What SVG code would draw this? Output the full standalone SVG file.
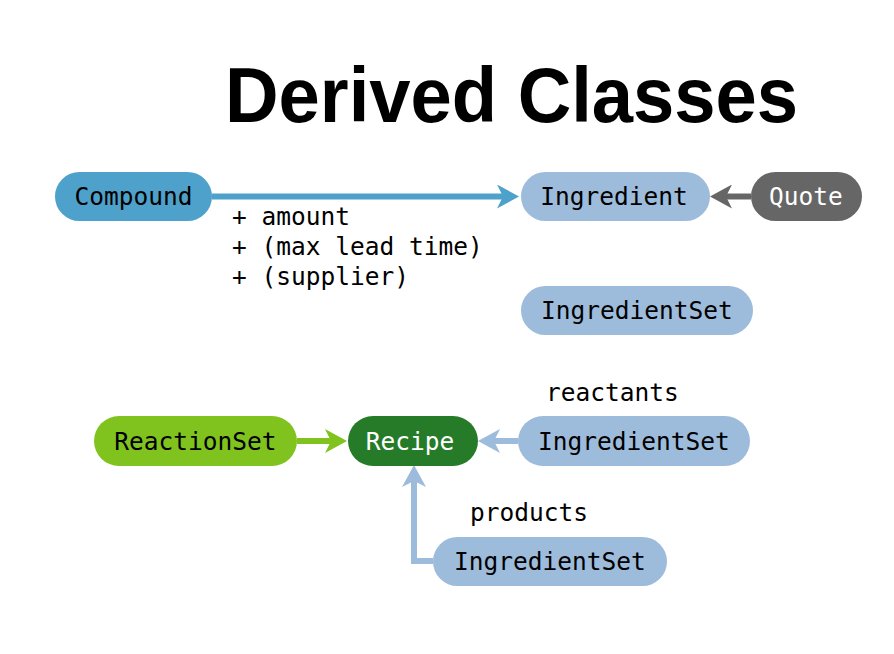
<svg xmlns="http://www.w3.org/2000/svg" width="894" height="654" viewBox="0 0 894 654">
<style>
.lbl{font-family:"DejaVu Sans Mono","Liberation Mono",monospace;font-size:24.5px;fill:#000}
.nt{font-family:"DejaVu Sans Mono","Liberation Mono",monospace;font-size:24.5px;text-anchor:middle}
.dk{fill:#000}.wt{fill:#fff}
.ln{fill:none;stroke-width:6}
</style>
<defs>
<marker id="hBlue" viewBox="0 0 22 24" markerWidth="22" markerHeight="24" refX="6" refY="12" orient="auto" markerUnits="userSpaceOnUse"><path d="M0,0 L22,12 L0,24 L6,12 Z" fill="#4ea1ca"/></marker>
<marker id="hGray" viewBox="0 0 22 24" markerWidth="22" markerHeight="24" refX="6" refY="12" orient="auto" markerUnits="userSpaceOnUse"><path d="M0,0 L22,12 L0,24 L6,12 Z" fill="#666666"/></marker>
<marker id="hGreen" viewBox="0 0 22 24" markerWidth="22" markerHeight="24" refX="6" refY="12" orient="auto" markerUnits="userSpaceOnUse"><path d="M0,0 L22,12 L0,24 L6,12 Z" fill="#80c31e"/></marker>
<marker id="hLight" viewBox="0 0 22 24" markerWidth="22" markerHeight="24" refX="6" refY="12" orient="auto" markerUnits="userSpaceOnUse"><path d="M0,0 L22,12 L0,24 L6,12 Z" fill="#9dbbdb"/></marker>
</defs>
<rect width="894" height="654" fill="#fff"/>
<text x="225" y="122" font-family="Liberation Sans, Arial, sans-serif" font-weight="bold" font-size="78" textLength="573" lengthAdjust="spacingAndGlyphs">Derived Classes</text>

<g id="connectors">
<path class="ln" d="M212,196.5 L503,196.5" stroke="#4ea1ca" marker-end="url(#hBlue)"/>
<path class="ln" d="M751,196.5 L726,196.5" stroke="#666666" marker-end="url(#hGray)"/>
<path class="ln" d="M297,441 L331,441" stroke="#80c31e" marker-end="url(#hGreen)"/>
<path class="ln" d="M518,441 L494,441" stroke="#9dbbdb" marker-end="url(#hLight)"/>
<path class="ln" d="M433,561 L414,561 L414,481" stroke="#9dbbdb" marker-end="url(#hLight)"/>
</g>

<g id="annotation">
<text class="lbl" x="232" y="225">+ amount</text>
<text class="lbl" x="232" y="255">+ (max lead time)</text>
<text class="lbl" x="232" y="285">+ (supplier)</text>
<text class="lbl" x="546" y="401">reactants</text>
<text class="lbl" x="470" y="521">products</text>
</g>

<g id="compound"><rect x="55" y="172" width="157" height="49" rx="24.5" fill="#4ea1ca"/><text class="nt dk" x="133.5" y="205">Compound</text></g>
<g id="ingredient"><rect x="521" y="172" width="189" height="49" rx="24.5" fill="#9dbbdb"/><text class="nt dk" x="614" y="205">Ingredient</text></g>
<g id="quote"><rect x="751" y="172" width="111" height="49" rx="24.5" fill="#666666"/><text class="nt wt" x="806" y="205">Quote</text></g>
<g id="ingredientset1"><rect x="521" y="286" width="232" height="49" rx="24.5" fill="#9dbbdb"/><text class="nt dk" x="637" y="319">IngredientSet</text></g>
<g id="reactionset"><rect x="94" y="416" width="203" height="50" rx="25" fill="#80c31e"/><text class="nt dk" x="195.5" y="450">ReactionSet</text></g>
<g id="recipe"><rect x="348" y="416" width="130" height="50" rx="25" fill="#267b29"/><text class="nt wt" x="410" y="450">Recipe</text></g>
<g id="ingredientset-reactants"><rect x="518" y="416" width="232" height="50" rx="25" fill="#9dbbdb"/><text class="nt dk" x="634" y="450">IngredientSet</text></g>
<g id="ingredientset-products"><rect x="433" y="537" width="234" height="49" rx="24.5" fill="#9dbbdb"/><text class="nt dk" x="550" y="570">IngredientSet</text></g>
</svg>
